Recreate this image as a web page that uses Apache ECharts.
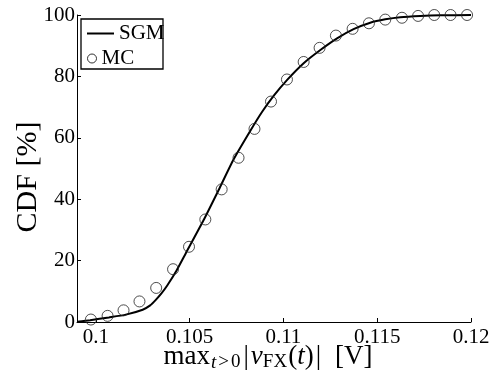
<!DOCTYPE html>
<html>
<head>
<meta charset="utf-8">
<script src="https://cdn.jsdelivr.net/npm/echarts@6/dist/echarts.min.js"></script>
<style>html,body{margin:0;padding:0;background:#fff}#c{width:497px;height:381px}</style>
</head>
<body>
<div id="c"></div>
<script>
const xTicks = [0.1, 0.105, 0.11, 0.115, 0.12];
const mcX = [0.09974, 0.10063, 0.10148, 0.10233, 0.10322, 0.10412, 0.10497, 0.10584, 0.10671, 0.10761, 0.10846, 0.10934,
             0.11019, 0.11108, 0.11193, 0.11280, 0.11369, 0.11456, 0.11543, 0.11632, 0.11718, 0.11804, 0.11891, 0.11979];
const mcY = [0.8, 2.0, 3.8, 6.7, 11.1, 17.2, 24.5, 33.4, 43.2, 53.5, 62.9, 71.8,
             79.0, 84.7, 89.3, 93.3, 95.5, 97.3, 98.5, 99.1, 99.7, 100, 100, 100];
const sgmX = [0.099, 0.0997, 0.1007, 0.1016, 0.1025, 0.1029, 0.1032, 0.1035, 0.1038, 0.1043, 0.1048, 0.10575, 0.10655,
              0.10735, 0.10824, 0.10886, 0.1095, 0.11019, 0.11108, 0.11197, 0.11286, 0.11374, 0.11463, 0.11543,
              0.11623, 0.1173, 0.11836, 0.12];
const sgmY = [0.1, 0.6, 1.5, 2.4, 4.0, 5.4, 7.2, 9.3, 11.8, 16.7, 22.4, 33.2, 43.0,
              53.0, 62.3, 68.4, 73.8, 78.8, 84.3, 88.6, 92.4, 95.4, 97.5, 98.6,
              99.3, 99.7, 99.9, 100];

const FONT = '"Liberation Serif", "DejaVu Serif", serif';
const legendText = {fontFamily: FONT, fontSize: 21, color: '#000'};
const chart = echarts.init(document.getElementById('c'), null, {renderer: 'canvas'});
chart.setOption({
  animation: false,
  backgroundColor: '#fff',
  grid: {left: 77, right: 26, top: 15, bottom: 59, containLabel: false},
  legend: [
    {
      left: 87, top: 23, padding: 0, z: 10,
      itemWidth: 27, itemHeight: 2, itemGap: 0,
      textStyle: legendText,
      data: [{name: 'SGM', icon: 'rect', itemStyle: {color: '#000', borderWidth: 0}}]
    },
    {
      left: 87, top: 48, padding: 0, z: 10,
      itemWidth: 9, itemHeight: 9, itemGap: 0,
      textStyle: legendText,
      data: [{name: 'MC', icon: 'circle', itemStyle: {color: 'rgba(0,0,0,0)', borderColor: '#000', borderWidth: 1}}]
    }
  ],
  xAxis: {
    type: 'value', min: 0.099, max: 0.12,
    axisLine: {show: true, lineStyle: {color: '#000', width: 1}},
    axisTick: {show: true, inside: true, length: 4, customValues: xTicks, lineStyle: {color: '#000'}},
    axisLabel: {customValues: xTicks, margin: 5, fontFamily: FONT, fontSize: 21, color: '#000',
                formatter: v => String(Number(v.toFixed(4)))},
    splitLine: {show: false}
  },
  yAxis: {
    type: 'value', min: 0, max: 100, interval: 20,
    axisLine: {show: true, lineStyle: {color: '#000', width: 1}},
    axisTick: {show: true, inside: true, length: 4, lineStyle: {color: '#000'}},
    axisLabel: {margin: 2, fontFamily: FONT, fontSize: 21, color: '#000'},
    splitLine: {show: false}
  },
  graphic: [
    {type: 'rect', z: 1, shape: {x: 81, y: 19, width: 82, height: 50},
     style: {fill: '#fff', stroke: '#000', lineWidth: 1.3}},
    {type: 'text', x: 28, y: 177, rotation: Math.PI / 2,
     style: {text: 'CDF [%]', font: '30px ' + FONT, fill: '#000', align: 'center', verticalAlign: 'middle'}},
    {type: 'text', x: 268, y: 357,
     style: {
       align: 'center', verticalAlign: 'middle',
       rich: {
         n: {fontFamily: FONT, fontSize: 27, color: '#000'},
         bar: {fontFamily: FONT, fontSize: 27, color: '#000', padding: [0, 2, 0, 2]},
         s: {fontFamily: FONT, fontSize: 19, fontStyle: 'italic', color: '#000', padding: [11, 0, 0, 1]},
         gt: {fontFamily: FONT, fontSize: 19, color: '#000', padding: [11, 2, 0, 2]},
         sn: {fontFamily: FONT, fontSize: 19, color: '#000', padding: [11, 1, 0, 0]},
         i: {fontFamily: FONT, fontSize: 27, fontStyle: 'italic', color: '#000'},
         u: {fontFamily: FONT, fontSize: 27, color: '#000', padding: [0, 0, 0, 12]}
       },
       text: '{n|max}{s|t}{gt|>}{sn|0}{bar||}{i|v}{sn|FX}{n|(}{i|t}{n|)}{bar||}{u|[V]}'
     }}
  ],
  series: [
    {name: 'SGM', type: 'line', data: sgmX.map((x, i) => [x, sgmY[i]]), smooth: 0.2,
     showSymbol: false, lineStyle: {color: '#000', width: 2}, itemStyle: {color: '#000'}, z: 3},
    {name: 'MC', type: 'scatter', data: mcX.map((x, i) => [x, mcY[i]]), symbol: 'circle', symbolSize: 11,
     itemStyle: {color: 'rgba(0,0,0,0)', borderColor: '#222', borderWidth: 1}, z: 4}
  ]
});
</script>
</body>
</html>
